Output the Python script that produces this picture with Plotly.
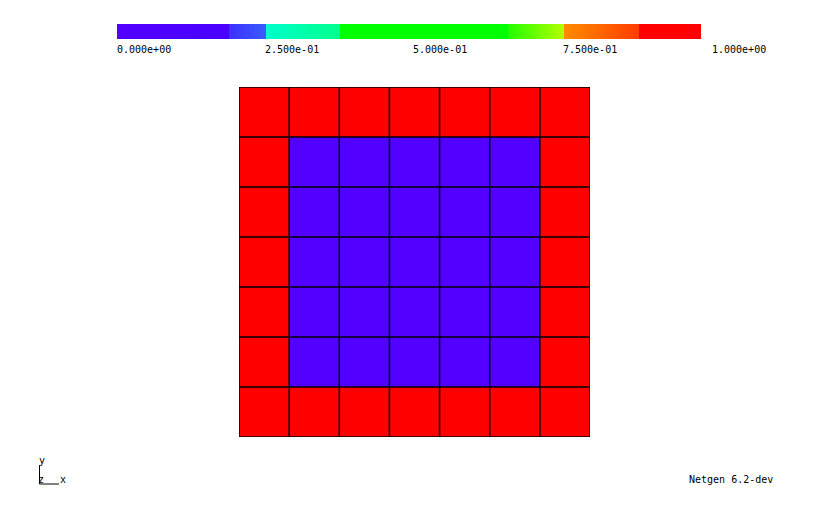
import plotly.graph_objects as go

W, H = 830, 525

# Cell values of the 7x7 mesh (row 0 = bottom)
cell_values = [
    [1, 1, 1, 1, 1, 1, 1],
    [1, 0, 0, 0, 0, 0, 1],
    [1, 0, 0, 0, 0, 0, 1],
    [1, 0, 0, 0, 0, 0, 1],
    [1, 0, 0, 0, 0, 0, 1],
    [1, 0, 0, 0, 0, 0, 1],
    [1, 1, 1, 1, 1, 1, 1],
]
cell_centers = [0.5, 1.5, 2.5, 3.5, 4.5, 5.5, 6.5]
grid_lines = [0, 1, 2, 3, 4, 5, 6, 7]

colorbar_ticks = [0.0, 0.25, 0.5, 0.75, 1.0]
colorbar_labels = ["0.000e+00", "2.500e-01", "5.000e-01", "7.500e-01", "1.000e+00"]
label_px = [117, 265, 413, 563, 712]

colorscale = [
    [0.000, "#5200ff"], [0.192, "#4800ff"],
    [0.192, "#3c30ff"], [0.255, "#3a5cff"],
    [0.255, "#00ffcc"], [0.382, "#00ff8c"],
    [0.382, "#00ff00"], [0.670, "#00ff00"],
    [0.670, "#22ff00"], [0.765, "#b4ff00"],
    [0.765, "#ff8c00"], [0.894, "#ff3c00"],
    [0.894, "#ff0000"], [1.000, "#ff0000"],
]

MONO = "DejaVu Sans Mono"

fig = go.Figure()
fig.add_trace(go.Heatmap(
    z=cell_values, x=cell_centers, y=cell_centers,
    colorscale=colorscale, zmin=0, zmax=1, hoverinfo="skip",
    colorbar=dict(
        orientation="h", thickness=15, thicknessmode="pixels",
        len=584 / W, lenmode="fraction",
        x=117 / W, xanchor="left", y=1 - 24 / H, yanchor="top",
        xpad=0, ypad=0, outlinewidth=0, showticklabels=False, ticks="",
    ),
))

# grid lines
for g in grid_lines:
    fig.add_trace(go.Scatter(x=[g, g], y=[0, 7], mode="lines",
                             line=dict(color="black", width=1.5),
                             hoverinfo="skip", showlegend=False))
    fig.add_trace(go.Scatter(x=[0, 7], y=[g, g], mode="lines",
                             line=dict(color="black", width=1.5),
                             hoverinfo="skip", showlegend=False))

fig.update_xaxes(domain=[239 / W, 590 / W], range=[0, 7], visible=False)
fig.update_yaxes(domain=[(H - 437) / H, (H - 87) / H], range=[0, 7], visible=False)

ann = []
for px, t in zip(label_px, colorbar_labels):
    ann.append(dict(x=px / W, y=1 - 42 / H, xref="paper", yref="paper",
                    text=t, showarrow=False, xanchor="left", yanchor="top",
                    xshift=-2, font=dict(family=MONO, size=10, color="black")))
ann.append(dict(x=689 / W, y=1 - 479 / H, xref="paper", yref="paper",
                text="Netgen 6.2-dev", showarrow=False, xanchor="left", yanchor="middle",
                xshift=-2, font=dict(family=MONO, size=10, color="black")))
for t, px, py in [("y", 39, 460), ("z", 38, 479), ("x", 60, 479)]:
    ann.append(dict(x=px / W, y=1 - py / H, xref="paper", yref="paper",
                    text=t, showarrow=False, xanchor="left", yanchor="middle",
                    xshift=-2, font=dict(family=MONO, size=10, color="black")))

shapes = [
    dict(type="line", xref="paper", yref="paper", x0=39.5 / W, x1=39.5 / W,
         y0=1 - 465 / H, y1=1 - 484 / H, line=dict(color="black", width=1)),
    dict(type="line", xref="paper", yref="paper", x0=39.5 / W, x1=59 / W,
         y0=1 - 484 / H, y1=1 - 484 / H, line=dict(color="black", width=1)),
]

fig.update_layout(width=W, height=H, margin=dict(l=0, r=0, t=0, b=0),
                  paper_bgcolor="white", plot_bgcolor="white",
                  showlegend=False, annotations=ann, shapes=shapes)

fig.write_html("out.html")
